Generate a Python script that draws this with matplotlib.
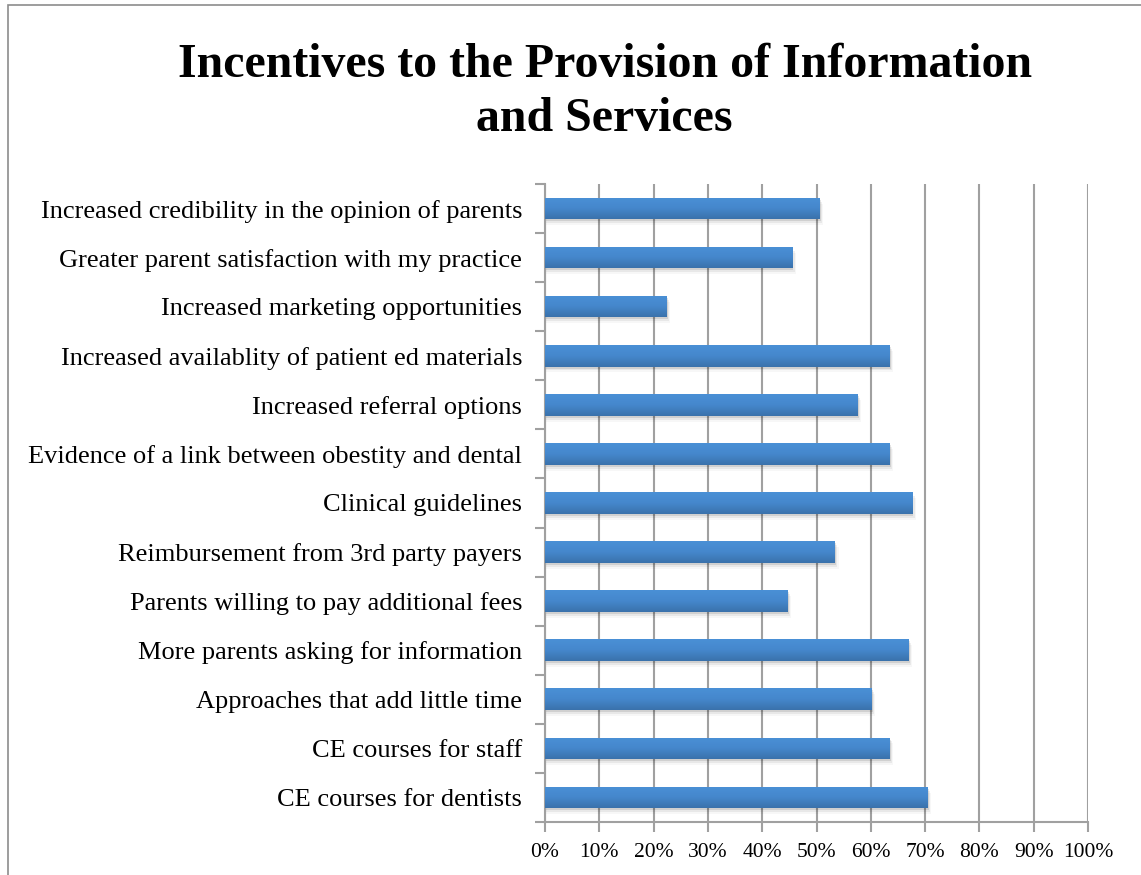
import numpy as np
import matplotlib
matplotlib.use("Agg")
import matplotlib.pyplot as plt
from matplotlib.patches import Rectangle
from matplotlib.ticker import PercentFormatter, FixedLocator

categories = [
    "Increased credibility in the opinion of parents",
    "Greater parent satisfaction with my practice",
    "Increased marketing opportunities",
    "Increased availablity of patient ed materials",
    "Increased referral options",
    "Evidence of a link between obestity and dental",
    "Clinical guidelines",
    "Reimbursement from 3rd party payers",
    "Parents willing to pay additional fees",
    "More parents asking for information",
    "Approaches that add little time",
    "CE courses for staff",
    "CE courses for dentists",
]
values = [50.5, 45.5, 22.3, 63.4, 57.5, 63.4, 67.6, 53.3, 44.6, 66.9, 60.1, 63.4, 70.4]
xticks = [0, 10, 20, 30, 40, 50, 60, 70, 80, 90, 100]

plt.rcParams['font.family'] = ['Liberation Serif', 'DejaVu Serif']

fig = plt.figure(figsize=(11.41, 8.75), dpi=100)
ax = fig.add_axes([0.4777, 0.0606, 0.4759, 0.7291])

# outer frame (only left and top edges visible in the reference)
fig.patches.append(Rectangle((0.007, -0.05), 1.2, 1.044, transform=fig.transFigure,
                             fill=False, edgecolor='#8c8c8c', linewidth=1.2))

n = len(categories)
ypos = np.arange(n)[::-1]
h = 0.44

# soft shadow under bars
for y, v in zip(ypos, values):
    for k, a in enumerate([0.10, 0.06, 0.03]):
        d = 0.04 * (k + 1)
        ax.add_patch(Rectangle((0.15, y - h / 2 - d), v + 0.25 * (k + 1) - 0.15, h,
                               facecolor='black', alpha=a, linewidth=0, zorder=2))

bars = ax.barh(ypos, values, height=h, color='#4285c8', zorder=3)

# vertical gradient on each bar
grad = np.linspace(0, 1, 64).reshape(-1, 1)
cmap = matplotlib.colors.LinearSegmentedColormap.from_list('b', ['#4a90d6', '#4587cc', '#3a72ab'])
for b in bars:
    x0, y0 = b.get_x(), b.get_y()
    w, hh = b.get_width(), b.get_height()
    im = ax.imshow(grad[::-1], cmap=cmap, aspect='auto', extent=[x0, x0 + w, y0, y0 + hh],
                   origin='lower', zorder=4)
    im.set_clip_path(b)

ax.set_xlim(0, 100)
ax.set_ylim(-0.5, n - 0.5)
ax.set_xticks(xticks)
ax.xaxis.set_major_formatter(PercentFormatter(decimals=0))
ax.set_yticks(ypos)
ax.set_yticklabels(categories)
ax.yaxis.set_minor_locator(FixedLocator(np.arange(-0.5, n, 1.0)))

ax.grid(axis='x', color='#a0a0a0', linewidth=1.5, zorder=1)
ax.set_axisbelow(True)
for s in ['top', 'right']:
    ax.spines[s].set_visible(False)
for s in ['left', 'bottom']:
    ax.spines[s].set_color('#a0a0a0')
    ax.spines[s].set_linewidth(1.5)

ax.tick_params(axis='y', which='major', length=0, pad=16.5, labelsize=19)
ax.tick_params(axis='y', which='minor', length=7, width=1.5, color='#a0a0a0')
ax.tick_params(axis='x', length=7, width=1.5, color='#a0a0a0', labelsize=15.5, pad=8)

fig.text(0.53, 0.895, "Incentives to the Provision of Information\nand Services",
         ha='center', va='center', fontsize=34.5, fontweight='bold', linespacing=1.3)

fig.savefig("out.png", dpi=100)
